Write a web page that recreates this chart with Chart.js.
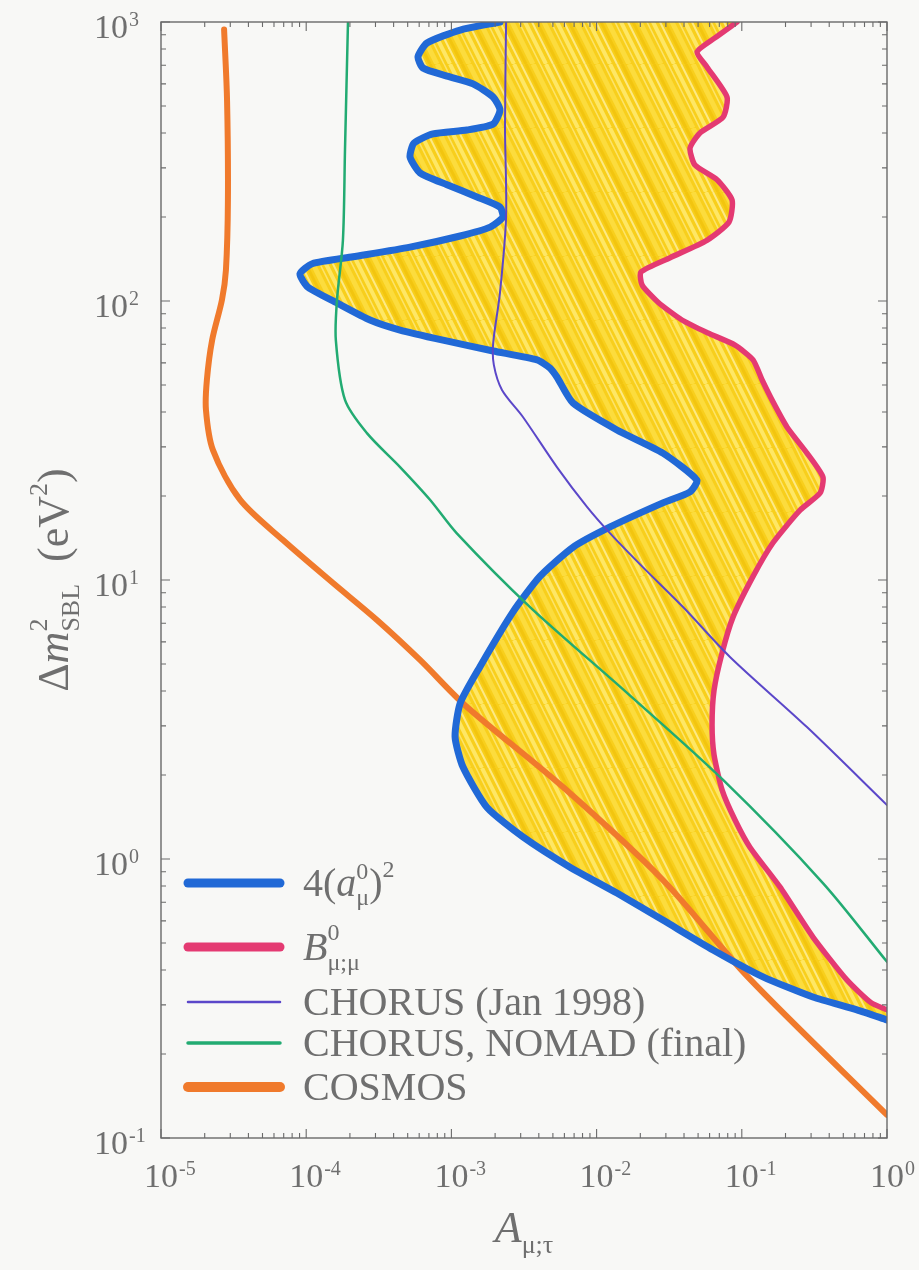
<!DOCTYPE html>
<html>
<head>
<meta charset="utf-8">
<script src="https://cdn.jsdelivr.net/npm/chart.js@4.4.1/dist/chart.umd.min.js"></script>
<style>
  html, body { margin: 0; padding: 0; background: #f8f8f6; }
  #wrap { width: 919px; height: 1270px; position: relative; }
</style>
</head>
<body>
<div id="wrap"><canvas id="exclusionChart"></canvas></div>
<script>
// axis ranges and the decade labels (10^n)
const xRange = [1e-5, 1];
const yRange = [0.1, 1000];
const xTickValues = [1e-5, 1e-4, 1e-3, 1e-2, 1e-1, 1];
const xTickExponents = ['-5', '-4', '-3', '-2', '-1', '0'];
const yTickValues = [0.1, 1, 10, 100, 1000];
const yTickExponents = ['-1', '0', '1', '2', '3'];

// [A, dm2] pairs
// 4(a_mu^0)^2 contour, from the top edge down to the right edge
const amuContour = [
  [2.16e-3, 1000], [1.15e-3, 936], [6.79e-4, 841], [5.89e-4, 750], [6.37e-4, 684],
  [9.33e-4, 640], [1.41e-3, 600], [1.94e-3, 538], [2.16e-3, 484], [1.94e-3, 431],
  [1.28e-3, 410], [7.46e-4, 397], [5.52e-4, 368], [5.19e-4, 328], [6.08e-4, 288],
  [9.33e-4, 261], [1.50e-3, 236], [2.16e-3, 217], [2.26e-3, 200], [1.85e-3, 184],
  [1.15e-3, 171], [5.19e-4, 156], [2.10e-4, 144], [1.10e-4, 136], [9.06e-5, 125],
  [1.03e-4, 112], [1.63e-4, 98.4], [2.75e-4, 85.5], [4.43e-4, 78.7], [8.75e-4, 72.4],
  [1.94e-3, 66.2], [3.89e-3, 61.5], [4.78e-3, 57.5], [5.33e-3, 53.4], [6.87e-3, 43.1],
  [1.38e-2, 34.5], [2.86e-2, 28.5], [4.91e-2, 22.8], [4.40e-2, 20.7], [2.86e-2, 18.9],
  [1.24e-2, 15.5], [6.87e-3, 13.1], [4.07e-3, 10.3], [2.65e-3, 7.67], [1.57e-3, 4.88],
  [1.15e-3, 3.62], [1.06e-3, 2.74], [1.20e-3, 2.14], [1.76e-3, 1.53], [3.11e-3, 1.20],
  [6.56e-3, 0.935], [1.38e-2, 0.755], [2.86e-2, 0.604], [6.34e-2, 0.472], [0.140, 0.378],
  [0.309, 0.320], [0.621, 0.288], [1.0, 0.265]
];

// B_mu;mu^0 boundary, top edge to right edge
const bmuBoundary = [
  [9.27e-2, 1000], [6.53e-2, 877], [4.92e-2, 781], [5.75e-2, 690], [7.91e-2, 538],
  [7.43e-2, 456], [5.15e-2, 400], [4.40e-2, 353], [4.76e-2, 307], [6.75e-2, 272],
  [8.57e-2, 230], [8.17e-2, 192], [5.75e-2, 165], [3.21e-2, 143], [2.02e-2, 127],
  [2.06e-2, 114], [2.65e-2, 99], [3.87e-2, 85.5], [5.85e-2, 76.8], [8.98e-2, 69.5],
  [0.1195, 61.5], [0.138, 52.1], [0.164, 43.5], [0.205, 35.3], [0.281, 28.5],
  [0.362, 23.4], [0.346, 20.5], [0.252, 17.8], [0.164, 13.6], [0.1195, 10.3],
  [8.70e-2, 7.36], [7.31e-2, 5.47], [6.44e-2, 4.03], [6.24e-2, 3.02], [6.44e-2, 2.36],
  [7.31e-2, 1.77], [8.98e-2, 1.38], [0.114, 1.10], [0.183, 0.794], [0.309, 0.525],
  [0.531, 0.368], [0.78, 0.305], [1.0, 0.288]
];

const chorus1998 = [
  [2.38e-3, 1000], [2.34e-3, 420], [2.38e-3, 200], [2.16e-3, 107], [1.94e-3, 70.7],
  [1.96e-3, 59.0], [2.23e-3, 48.0], [3.11e-3, 38.4], [5.33e-3, 25.4], [8.59e-3, 18.3],
  [1.24e-2, 14.7], [2.09e-2, 11.1], [3.94e-2, 8.0], [8.29e-2, 5.30], [0.281, 2.97],
  [1.0, 1.56]
];

const chorusNomadFinal = [
  [1.94e-4, 1000], [1.85e-4, 348], [1.79e-4, 165], [1.63e-4, 101], [1.60e-4, 72.4],
  [1.85e-4, 44.2], [2.62e-4, 33.6], [4.43e-4, 25.4], [7.12e-4, 19.4], [1.09e-3, 14.7],
  [3.48e-3, 8.0], [1.62e-2, 3.94], [7.43e-2, 1.92], [0.362, 0.82], [1.0, 0.428]
];

const cosmos = [
  [2.72e-5, 940], [2.85e-5, 525], [2.89e-5, 230], [2.80e-5, 129], [2.63e-5, 101],
  [2.25e-5, 72.4], [2.07e-5, 52.1], [2.04e-5, 40.7], [2.28e-5, 29.2], [3.50e-5, 19.4],
  [6.92e-5, 13.9], [1.53e-4, 9.75], [3.07e-4, 7.19], [6.08e-4, 5.17], [1.24e-3, 3.56],
  [5.87e-3, 1.81], [2.86e-2, 0.841], [0.110, 0.378], [1.0, 0.121]
];

const toPoints = pairs => pairs.map(([x, y]) => ({ x, y }));

// allowed region: blue contour down, then the B boundary back up
const allowedRegion = toPoints(amuContour.concat(bmuBoundary.slice().reverse()));

const serif = '"Liberation Serif", "Times New Roman", Times, "DejaVu Serif", serif';
const textColor = '#6f6f6f';
const axisColor = '#6a6a6a';

// felt-tip colouring for the yellow band: steep streaks of uneven width
function markerPattern() {
  const w = 32, h = 64;
  const c = document.createElement('canvas');
  c.width = w; c.height = h;
  const g = c.getContext('2d');
  g.fillStyle = '#f8cf1c';
  g.fillRect(0, 0, w, h);
  const streaks = [
    { x: 2, width: 4, color: 'rgba(255,236,120,0.8)' },
    { x: 9, width: 2, color: 'rgba(255,247,190,0.65)' },
    { x: 14, width: 3, color: 'rgba(236,184,0,0.45)' },
    { x: 21, width: 5, color: 'rgba(252,222,70,0.8)' },
    { x: 28, width: 1.5, color: 'rgba(255,242,160,0.6)' }
  ];
  streaks.forEach(s => {
    g.strokeStyle = s.color;
    g.lineWidth = s.width;
    [-w, 0, w].forEach(off => {
      g.beginPath();
      g.moveTo(s.x + off, 0);
      g.lineTo(s.x + off + w, h);
      g.stroke();
    });
  });
  return g.createPattern(c, 'repeat');
}

// draws a run of text pieces; "hold" pieces don't move the pen (stacked sup/sub)
function drawParts(ctx, x, y, parts, measureOnly) {
  let cx = x;
  parts.forEach(p => {
    ctx.font = (p.italic ? 'italic ' : '') + p.size + 'px ' + serif;
    if (!measureOnly) ctx.fillText(p.t, cx, y + (p.dy || 0));
    if (!p.hold) cx += ctx.measureText(p.t).width;
  });
  return cx - x;
}

const isDecade = v => {
  const l = Math.log10(v);
  return Math.abs(l - Math.round(l)) < 1e-6;
};
const isWholeStep = v => {
  const m = v / Math.pow(10, Math.floor(Math.log10(v) + 1e-9));
  return Math.abs(m - Math.round(m)) < 1e-6;
};

const legendRows = [
  { y: 883, parts: [
    { t: '4(', size: 40 }, { t: 'a', size: 40, italic: true },
    { t: '0', size: 24, dy: -17, hold: true }, { t: 'μ', size: 24, dy: 9 },
    { t: ')', size: 40 }, { t: '2', size: 24, dy: -19 }] },
  { y: 947, parts: [
    { t: 'B', size: 40, italic: true },
    { t: '0', size: 24, dy: -20, hold: true }, { t: 'μ;μ', size: 24, dy: 10 }] },
  { y: 1002, parts: [{ t: 'CHORUS (Jan 1998)', size: 40 }] },
  { y: 1043, parts: [{ t: 'CHORUS, NOMAD (final)', size: 40 }] },
  { y: 1087, parts: [{ t: 'COSMOS', size: 40 }] }
];

const axisDecor = {
  id: 'axisDecor',
  afterDatasetsDraw(chart) {
    const { ctx, chartArea: a, scales: { x, y } } = chart;
    ctx.save();
    ctx.strokeStyle = axisColor;
    ctx.lineWidth = 1.4;
    ctx.strokeRect(a.left, a.top, a.right - a.left, a.bottom - a.top);

    // inward ticks on all four sides
    ctx.lineWidth = 1.1;
    ctx.beginPath();
    x.ticks.filter(t => isWholeStep(t.value)).forEach(t => {
      const px = x.getPixelForValue(t.value);
      const len = isDecade(t.value) ? 9 : 5;
      ctx.moveTo(px, a.bottom); ctx.lineTo(px, a.bottom - len);
      ctx.moveTo(px, a.top); ctx.lineTo(px, a.top + len);
    });
    y.ticks.filter(t => isWholeStep(t.value)).forEach(t => {
      const py = y.getPixelForValue(t.value);
      const len = isDecade(t.value) ? 9 : 5;
      ctx.moveTo(a.left, py); ctx.lineTo(a.left + len, py);
      ctx.moveTo(a.right, py); ctx.lineTo(a.right - len, py);
    });
    ctx.stroke();
    ctx.restore();
  },
  afterDraw(chart) {
    const { ctx, chartArea: a, scales: { x, y } } = chart;
    ctx.save();
    ctx.fillStyle = textColor;
    ctx.textAlign = 'left';
    ctx.textBaseline = 'alphabetic';

    // decade labels
    xTickValues.forEach((v, i) => {
      const px = x.getPixelForValue(v);
      ctx.font = '34px ' + serif;
      const w = ctx.measureText('10').width;
      ctx.fillText('10', px - w / 2, a.bottom + 49);
      ctx.font = '20px ' + serif;
      ctx.fillText(xTickExponents[i], px + w / 2 + 1, a.bottom + 37);
    });
    yTickValues.forEach((v, i) => {
      const py = y.getPixelForValue(v);
      ctx.font = '34px ' + serif;
      const w = ctx.measureText('10').width;
      const right = a.left - 33;
      ctx.fillText('10', right - w, py + 16);
      ctx.font = '20px ' + serif;
      ctx.fillText(yTickExponents[i], right + 1, py + 4);
    });

    // x title
    const xTitle = [{ t: 'A', size: 44, italic: true }, { t: 'μ;τ', size: 26, dy: 11 }];
    const xw = drawParts(ctx, 0, 0, xTitle, true);
    drawParts(ctx, (a.left + a.right) / 2 - xw / 2, 1242, xTitle);

    // y title, rotated
    const yTitle = [
      { t: 'Δ', size: 44 }, { t: 'm', size: 44, italic: true },
      { t: '2', size: 26, dy: -21, hold: true }, { t: 'SBL', size: 26, dy: 11 },
      { t: '  (eV', size: 44 }, { t: '2', size: 26, dy: -21 }, { t: ')', size: 44 }
    ];
    const yw = drawParts(ctx, 0, 0, yTitle, true);
    ctx.save();
    ctx.translate(68, (a.top + a.bottom) / 2);
    ctx.rotate(-Math.PI / 2);
    drawParts(ctx, -yw / 2, 0, yTitle);
    ctx.restore();

    // legend
    legendRows.forEach((row, i) => {
      const ds = chart.data.datasets[i];
      ctx.save();
      ctx.strokeStyle = ds.borderColor;
      ctx.lineWidth = ds.legendWidth;
      ctx.lineCap = 'round';
      ctx.beginPath();
      ctx.moveTo(188, row.y);
      ctx.lineTo(280, row.y);
      ctx.stroke();
      ctx.restore();
      drawParts(ctx, 303, row.y + 13, row.parts);
    });
    ctx.restore();
  }
};

const lineDefaults = {
  showLine: true,
  pointRadius: 0,
  borderCapStyle: 'round',
  borderJoinStyle: 'round',
  fill: false
};

new Chart(document.getElementById('exclusionChart'), {
  type: 'scatter',
  data: {
    datasets: [
      { ...lineDefaults, label: '4(a_μ^0)^2', data: toPoints(amuContour),
        borderColor: '#2169d6', borderWidth: 7, legendWidth: 9, tension: 0.2, order: 3 },
      { ...lineDefaults, label: 'B_μ;μ^0', data: toPoints(bmuBoundary),
        borderColor: '#e43a72', borderWidth: 5.5, legendWidth: 9, tension: 0.2, order: 5 },
      { ...lineDefaults, label: 'CHORUS (Jan 1998)', data: toPoints(chorus1998),
        borderColor: '#5b47c9', borderWidth: 2, legendWidth: 2.5, tension: 0.3, order: 1 },
      { ...lineDefaults, label: 'CHORUS, NOMAD (final)', data: toPoints(chorusNomadFinal),
        borderColor: '#22ab72', borderWidth: 2.5, legendWidth: 3.5, tension: 0.3, order: 2 },
      { ...lineDefaults, label: 'COSMOS', data: toPoints(cosmos),
        borderColor: '#f07a2c', borderWidth: 6, legendWidth: 10, tension: 0.3, order: 4 },
      { ...lineDefaults, label: 'allowed', data: allowedRegion,
        borderWidth: 0, backgroundColor: markerPattern(), fill: 'shape', tension: 0.2, order: 10 }
    ]
  },
  options: {
    responsive: true,
    maintainAspectRatio: false,
    animation: false,
    layout: { padding: { left: 161, right: 32, top: 22, bottom: 132 } },
    plugins: { legend: { display: false }, tooltip: { enabled: false } },
    scales: {
      x: {
        type: 'logarithmic', min: xRange[0], max: xRange[1],
        ticks: { display: false }, grid: { display: false }, border: { display: false },
        afterFit: s => { s.height = 0; }
      },
      y: {
        type: 'logarithmic', min: yRange[0], max: yRange[1],
        ticks: { display: false }, grid: { display: false }, border: { display: false },
        afterFit: s => { s.width = 0; }
      }
    }
  },
  plugins: [axisDecor]
});
</script>
</body>
</html>
